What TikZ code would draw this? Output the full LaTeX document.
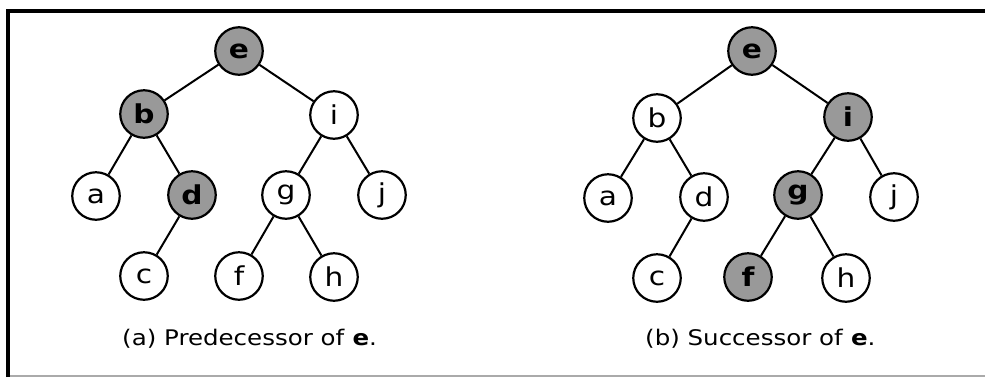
\documentclass[tikz,border=0pt]{standalone}
\usepackage{fontspec}
\setmainfont{DejaVu Sans}[FakeStretch=1.14]
\definecolor{hlgray}{RGB}{153,153,153}
\definecolor{rulegray}{RGB}{170,170,170}
\begin{document}
\begin{tikzpicture}[x=1bp,y=-1bp,
  nd/.style={circle,draw,line width=2.2bp,minimum size=47.5bp,inner sep=0pt,fill=white,
    font=\fontsize{26bp}{30bp}\selectfont},
  hl/.style={nd,fill=hlgray,font=\fontsize{26bp}{30bp}\selectfont\bfseries},
  lnk/.style={line width=2bp},
  captxt/.style={anchor=base west,inner sep=0pt,font=\fontsize{21.5bp}{25bp}\selectfont}]
\useasboundingbox (0,0) rectangle (985,377);
% frame
\coordinate (fbl) at (8,377);
\coordinate (ftl) at (8,11);
\coordinate (ftr) at (985,11);
\coordinate (gl) at (10,376);
\coordinate (gr) at (985,376);
\draw[line width=4bp] (fbl) -- (ftl) -- (ftr);
\draw[line width=1.5bp,rulegray] (gl) -- (gr);
% ---------- left tree: predecessor ----------
\node[hl] (Le) at (239,51) {e};
\node[hl] (Lb) at (144,114) {b};
\node[nd] (Li) at (334,115) {i};
\node[nd] (La) at (96,196) {a};
\node[hl] (Ld) at (192,195) {d};
\node[nd] (Lg) at (286,195) {g};
\node[nd] (Lj) at (382,195) {j};
\node[nd] (Lc) at (144,276) {c};
\node[nd] (Lf) at (239,276) {f};
\node[nd] (Lh) at (334,277) {h};
\draw[lnk] (Le) -- (Lb);
\draw[lnk] (Le) -- (Li);
\draw[lnk] (Lb) -- (La);
\draw[lnk] (Lb) -- (Ld);
\draw[lnk] (Ld) -- (Lc);
\draw[lnk] (Li) -- (Lg);
\draw[lnk] (Li) -- (Lj);
\draw[lnk] (Lg) -- (Lf);
\draw[lnk] (Lg) -- (Lh);
\node[captxt] (Lcap) at (122,345) {(a) Predecessor of \textbf{e}.};
% ---------- right tree: successor ----------
\node[hl] (Re) at (752,51) {e};
\node[nd] (Rb) at (657,118) {b};
\node[hl] (Ri) at (848,117) {i};
\node[nd] (Ra) at (608,198) {a};
\node[nd] (Rd) at (704,197) {d};
\node[hl] (Rg) at (798,195) {g};
\node[nd] (Rj) at (894,197) {j};
\node[nd] (Rc) at (657,278) {c};
\node[hl] (Rf) at (748,277) {f};
\node[nd] (Rh) at (846,278) {h};
\draw[lnk] (Re) -- (Rb);
\draw[lnk] (Re) -- (Ri);
\draw[lnk] (Rb) -- (Ra);
\draw[lnk] (Rb) -- (Rd);
\draw[lnk] (Rd) -- (Rc);
\draw[lnk] (Ri) -- (Rg);
\draw[lnk] (Ri) -- (Rj);
\draw[lnk] (Rg) -- (Rf);
\draw[lnk] (Rg) -- (Rh);
\node[captxt] (Rcap) at (645,345) {(b) Successor of \textbf{e}.};
\end{tikzpicture}
\end{document}
